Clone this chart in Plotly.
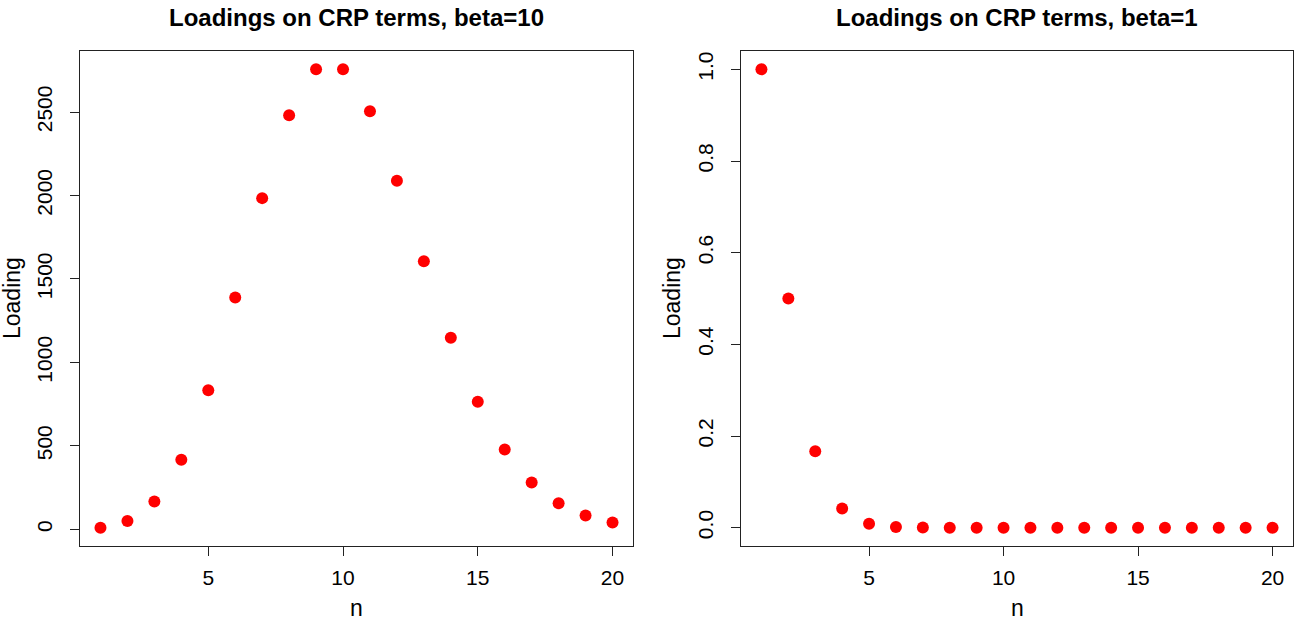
import plotly.graph_objects as go

n_values = list(range(1, 21))
loadings_beta10 = [10, 50, 166.67, 416.67, 833.33, 1388.89, 1984.13, 2480.16, 2755.73, 2755.73,
                   2505.21, 2087.68, 1605.90, 1147.07, 764.72, 477.95, 281.15, 156.19, 82.21, 41.10]
loadings_beta1 = [1.0, 0.5, 0.1667, 0.0417, 0.0083, 0.0014, 0.0002, 0.0, 0.0, 0.0,
                  0.0, 0.0, 0.0, 0.0, 0.0, 0.0, 0.0, 0.0, 0.0, 0.0]
x_ticks = [5, 10, 15, 20]
y_ticks_left = [0, 500, 1000, 1500, 2000, 2500]
y_ticks_right = [0.0, 0.2, 0.4, 0.6, 0.8, 1.0]
titles = ["Loadings on CRP terms, beta=10", "Loadings on CRP terms, beta=1"]

W, H = 1294, 624
ML, MR, MT, MB = 80, 1, 51, 78
PW = W - ML - MR
PH = H - MT - MB

def px_x(p):
    return (p - ML) / PW

def px_y(p):
    return (H - MB - p) / PH

FONT = "Liberation Sans, Arial, sans-serif"

fig = go.Figure()
fig.add_trace(go.Scatter(x=n_values, y=loadings_beta10, mode="markers",
                         marker=dict(color="#ff0000", size=12), xaxis="x", yaxis="y",
                         showlegend=False))
fig.add_trace(go.Scatter(x=n_values, y=loadings_beta1, mode="markers",
                         marker=dict(color="#ff0000", size=12), xaxis="x2", yaxis="y2",
                         showlegend=False))

def xr(vals):
    lo, hi = min(vals), max(vals)
    d = (hi - lo) * 0.04
    return [lo - d, hi + d]

axis_common = dict(showgrid=False, zeroline=False, showline=True, mirror=True,
                   linecolor="#222", linewidth=1, ticks="outside", ticklen=9,
                   tickcolor="#222", tickwidth=1,
                   tickfont=dict(family=FONT, size=21, color="black"))

left_dom = [0, px_x(633)]
right_dom = [px_x(741), 1]

fig.update_layout(
    width=W, height=H,
    margin=dict(l=ML, r=MR, t=MT, b=MB),
    paper_bgcolor="white", plot_bgcolor="white",
    xaxis=dict(domain=left_dom, range=xr(n_values), tickvals=x_ticks, anchor="y",
               ticklabelstandoff=4, **axis_common),
    yaxis=dict(domain=[0, 1], range=xr(loadings_beta10), tickvals=y_ticks_left,
               tickangle=-90, anchor="x", ticklabelstandoff=10, **axis_common),
    xaxis2=dict(domain=right_dom, range=xr(n_values), tickvals=x_ticks, anchor="y2",
                ticklabelstandoff=4, **axis_common),
    yaxis2=dict(domain=[0, 1], range=xr(loadings_beta1), tickvals=y_ticks_right,
                tickformat=".1f", tickangle=-90, anchor="x2", ticklabelstandoff=10,
                **axis_common),
)

annotations = []
centers = [(80 + 633) / 2, (741 + 1293) / 2]
ylab_x = [12, 672]
for i in range(2):
    annotations.append(dict(text="<b>%s</b>" % titles[i], x=px_x(centers[i]), y=px_y(17),
                            xref="paper", yref="paper", showarrow=False,
                            xanchor="center", yanchor="middle",
                            font=dict(family=FONT, size=24, color="black")))
    annotations.append(dict(text="n", x=px_x(centers[i]), y=px_y(608),
                            xref="paper", yref="paper", showarrow=False,
                            xanchor="center", yanchor="middle",
                            font=dict(family=FONT, size=23, color="black")))
    annotations.append(dict(text="Loading", x=px_x(ylab_x[i]), y=px_y(298),
                            xref="paper", yref="paper", showarrow=False, textangle=-90,
                            xanchor="center", yanchor="middle",
                            font=dict(family=FONT, size=23, color="black")))
fig.update_layout(annotations=annotations)

fig.write_html("out.html")
